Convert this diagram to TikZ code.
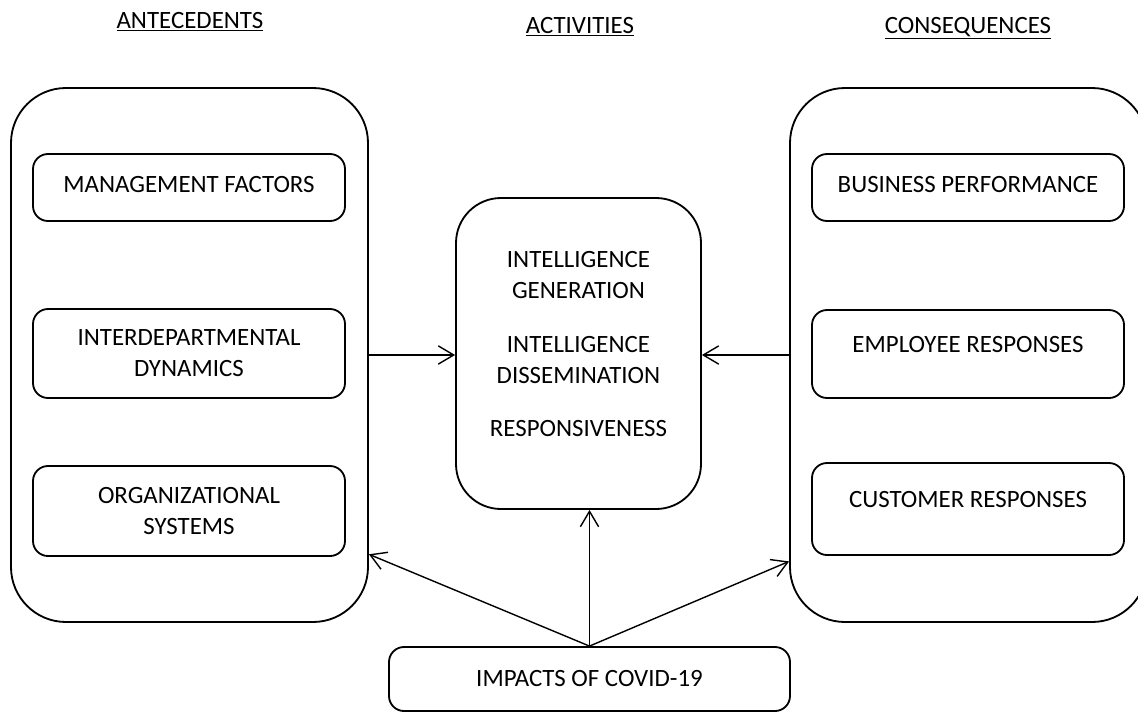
\documentclass[tikz,border=0pt]{standalone}
\usepackage{fontspec}
\setmainfont{Carlito}
\usepackage{tikz}
\usetikzlibrary{arrows.meta,shapes,positioning}
\tikzstyle{arrow} = [line width=1pt,-{Straight Barb[length=11pt,width=13pt,line width=1pt]}]
\tikzstyle{group} = [rectangle, rounded corners=1.375cm, draw, line width=1.3pt, inner sep=0pt, minimum width=8.925cm, minimum height=13.35cm]
\tikzstyle{factor} = [rectangle, rounded corners=0.375cm, draw, line width=1.3pt, inner sep=0pt, minimum width=7.8cm, align=center, font=\fontsize{17.7}{22}\selectfont]
\tikzstyle{heading} = [anchor=base, font=\fontsize{17.7}{22}\selectfont]

\begin{document}
\begin{tikzpicture}
\useasboundingbox (0,0) rectangle (28.45,-17.8);
% Column headings
\node (hant) [heading] at (4.75,-0.7) {\underline{ANTECEDENTS}};
\node (hact) [heading] at (14.5,-0.825) {\underline{ACTIVITIES}};
\node (hcon) [heading] at (24.2,-0.825) {\underline{CONSEQUENCES}};

% Outer groups
\node (ante) [group] at (4.7375,-8.875) {};
\node (conseq) [group] at (24.2125,-8.875) {};
\node (activ) [factor, rounded corners=1.125cm, minimum width=6.125cm, minimum height=7.775cm, text depth=13.5pt] at (14.4625,-8.8375) {INTELLIGENCE\\GENERATION\\[16.3pt]INTELLIGENCE\\DISSEMINATION\\[16.3pt]RESPONSIVENESS};

% Antecedents
\node (mgmt) [factor, minimum height=1.675cm, text depth=5pt] at (4.725,-4.6875) {MANAGEMENT FACTORS};
\node (inter) [factor, below of=mgmt, node distance=4.15cm, minimum height=2.225cm] {INTERDEPARTMENTAL\\DYNAMICS};
\node (org) [factor, below of=inter, node distance=3.9375cm, minimum height=2.25cm] {ORGANIZATIONAL\\SYSTEMS};

% Consequences
\node (bus) [factor, minimum height=1.675cm, text depth=5pt] at (24.2,-4.6875) {BUSINESS PERFORMANCE};
\node (emp) [factor, below of=bus, node distance=4.1625cm, minimum height=2.2cm, text depth=14pt] {EMPLOYEE RESPONSES};
\node (cust) [factor, below of=emp, node distance=3.875cm, minimum height=2.3cm, text depth=14pt] {CUSTOMER RESPONSES};

% Moderator
\node (covid) [factor, minimum width=10.025cm, minimum height=1.6cm] at (14.7375,-16.975) {IMPACTS OF COVID-19};

% Links
\draw[arrow] (ante.east) -- (ante.east -| activ.west);
\draw[arrow] (conseq.west) -- (conseq.west -| activ.east);
\draw[arrow] (covid.north) -- (covid.north |- activ.south);
\draw[arrow] (covid.north) -- (ante.-48);
\draw[arrow] (covid.north) -- (conseq.-131.3);
\end{tikzpicture}
\end{document}
